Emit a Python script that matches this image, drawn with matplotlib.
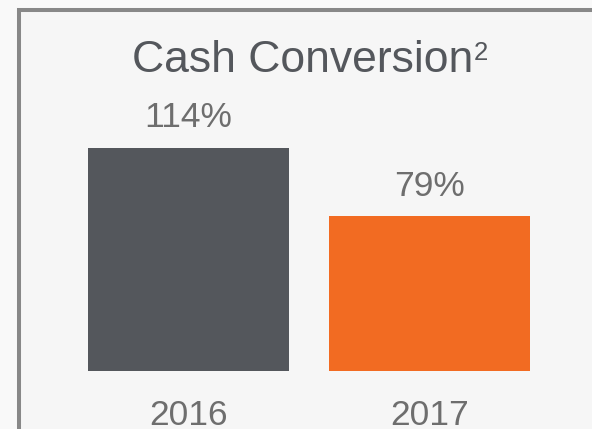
import matplotlib.pyplot as plt
from matplotlib.patches import Rectangle

plt.rcParams['font.family'] = ['Liberation Sans', 'DejaVu Sans']

# Données
annees = ["2016", "2017"]
conversion = [114, 79]
couleurs = ["#54575c", "#f26b22"]

W, H = 592, 429
fig = plt.figure(figsize=(W / 100, H / 100), dpi=100)
fig.patch.set_facecolor("#f9f9f9")

# Cadre gris
cadre = Rectangle((19 / W, -0.1), 1.2, 1 - 10 / H + 0.1, transform=fig.transFigure,
                  facecolor="#f6f6f6", edgecolor="#888888", linewidth=2.9, zorder=0)
fig.patches.append(cadre)

ax = fig.add_axes([0, 0, 1, 1])
ax.set_zorder(2)
ax.set_facecolor("none")
pas = 241.0
ax.set_xlim(-188.5 / pas, (W - 188.5) / pas)
echelle = 1.953
base = H - 370.7
ax.set_ylim(-base / echelle, (H - base) / echelle)
ax.axis("off")

x = range(len(annees))
barres = ax.bar(x, conversion, width=201 / pas, color=couleurs)

for i, v in enumerate(conversion):
    ax.annotate(f"{v}%", (i, v), xytext=(0, 15), textcoords="offset points",
                ha="center", va="baseline", fontsize=25.5, color="#6e6e6e")
    ax.annotate(annees[i], (i, 0), xytext=(0, -39), textcoords="offset points",
                ha="center", va="baseline", fontsize=25.5, color="#6e6e6e")

# Titre avec exposant
fig.text(302.5 / W, 1 - 71.5 / H, "Cash Conversion", ha="center", va="baseline",
         fontsize=32, color="#54575c", zorder=3)
fig.text(474 / W, 1 - 60 / H, "2", ha="left", va="baseline",
         fontsize=18.5, color="#54575c", zorder=3)

fig.savefig("out.png", dpi=100, facecolor=fig.get_facecolor())
